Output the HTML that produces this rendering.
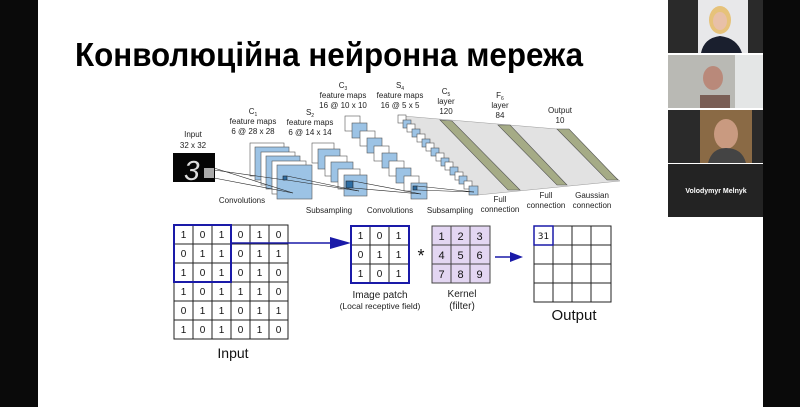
<!DOCTYPE html>
<html><head><meta charset="utf-8">
<style>
html,body{margin:0;padding:0;background:#fff;}
svg{display:block;}
text{font-family:"Liberation Sans",sans-serif;}
.d{font-family:"DejaVu Sans",sans-serif;font-size:10px;text-anchor:middle;fill:#111;}
.s{font-size:8px;text-anchor:middle;fill:#222;}
</style></head><body>
<svg width="800" height="407" viewBox="0 0 800 407" xmlns="http://www.w3.org/2000/svg">
<rect width="800" height="407" fill="#fff"/>
<rect x="0" y="0" width="38" height="407" fill="#0a0a0a"/>
<rect x="763" y="0" width="37" height="407" fill="#0a0a0a"/>
<!-- video tiles -->
<rect x="668" y="0" width="95" height="53" fill="#2a2a2a"/>
<rect x="698" y="0" width="50" height="53" fill="#e8e8ea"/>
<ellipse cx="720" cy="20" rx="11" ry="14" fill="#e6c27a"/>
<ellipse cx="720" cy="21" rx="7" ry="9" fill="#e8c0a8"/>
<path d="M701 53 Q704 38 720 36 Q737 38 742 53Z" fill="#1a1f2e"/>
<rect x="668" y="55" width="95" height="53" fill="#b9b9b4"/>
<rect x="735" y="55" width="28" height="53" fill="#e4e6e6"/>
<ellipse cx="713" cy="78" rx="10" ry="12" fill="#b9897a"/>
<rect x="700" y="95" width="30" height="13" fill="#7a5e55"/>
<rect x="668" y="110" width="95" height="53" fill="#2a2a2a"/>
<rect x="700" y="110" width="52" height="53" fill="#8a6a45"/>
<ellipse cx="726" cy="134" rx="12" ry="15" fill="#c99a80"/>
<path d="M708 163 Q712 148 726 148 Q742 148 746 163Z" fill="#444"/>
<rect x="668" y="164" width="95" height="53" fill="#232323"/>
<text x="716" y="193" font-size="7" font-weight="bold" fill="#fff" text-anchor="middle">Volodymyr Melnyk</text>

<text x="75" y="66" font-size="33" font-weight="bold" fill="#000" textLength="508" lengthAdjust="spacingAndGlyphs">Конволюційна нейронна мережа</text>

<!-- top diagram -->
<text class="s" x="193" y="137">Input</text>
<text class="s" x="193" y="148">32 x 32</text>
<rect x="173" y="153" width="42" height="29" fill="#050505"/>
<text x="184" y="180" font-size="28" fill="#ddd" font-style="italic">3</text>
<rect x="204" y="168" width="10" height="10" fill="#aaa"/>

<text class="s" x="253" y="114">C<tspan font-size="5" dy="2">1</tspan></text>
<text class="s" x="253" y="124">feature maps</text>
<text class="s" x="253" y="134">6 @ 28 x 28</text>
<text class="s" x="310" y="115">S<tspan font-size="5" dy="2">2</tspan></text>
<text class="s" x="310" y="125">feature maps</text>
<text class="s" x="310" y="135">6 @ 14 x 14</text>
<text class="s" x="343" y="88">C<tspan font-size="5" dy="2">3</tspan></text>
<text class="s" x="343" y="98">feature maps</text>
<text class="s" x="343" y="108">16 @ 10 x 10</text>
<text class="s" x="400" y="88">S<tspan font-size="5" dy="2">4</tspan></text>
<text class="s" x="400" y="98">feature maps</text>
<text class="s" x="400" y="108">16 @ 5 x 5</text>
<text class="s" x="446" y="94">C<tspan font-size="5" dy="2">5</tspan></text>
<text class="s" x="446" y="104">layer</text>
<text class="s" x="446" y="114">120</text>
<text class="s" x="500" y="98">F<tspan font-size="5" dy="2">6</tspan></text>
<text class="s" x="500" y="108">layer</text>
<text class="s" x="500" y="118">84</text>
<text class="s" x="560" y="113">Output</text>
<text class="s" x="560" y="123">10</text>

<!-- gray region -->
<polygon points="403,116 557,129 620,181 478,195" fill="#e2e2e2" stroke="#999" stroke-width="0.5"/>
<polygon points="440,120 452,121 520,190 508,190" fill="#a5ab86" stroke="#555" stroke-width="0.6"/>
<polygon points="498,125 510,125 567,185 557,185" fill="#a5ab86" stroke="#555" stroke-width="0.6"/>
<polygon points="557,129 569,129 618,180 607,180" fill="#a5ab86" stroke="#555" stroke-width="0.6"/>

<g stroke="#555" stroke-width="0.6">
<!-- C1 -->
<rect x="250" y="143" width="34" height="33" fill="#fff"/>
<rect x="255" y="147" width="34" height="33" fill="#9cc3e5"/>
<rect x="261" y="152" width="34" height="33" fill="#fff"/>
<rect x="266" y="156" width="34" height="33" fill="#9cc3e5"/>
<rect x="272" y="161" width="34" height="33" fill="#fff"/>
<rect x="277" y="165" width="35" height="34" fill="#9cc3e5"/>
<!-- S2 -->
<rect x="312" y="143" width="22" height="20" fill="#fff"/>
<rect x="318" y="149" width="22" height="20" fill="#9cc3e5"/>
<rect x="325" y="156" width="22" height="20" fill="#fff"/>
<rect x="331" y="162" width="22" height="20" fill="#9cc3e5"/>
<rect x="338" y="169" width="22" height="20" fill="#fff"/>
<rect x="344" y="175" width="23" height="21" fill="#9cc3e5"/>
<!-- C3 -->
<rect x="345" y="116" width="15" height="15" fill="#fff"/>
<rect x="352" y="123" width="15" height="15" fill="#9cc3e5"/>
<rect x="360" y="131" width="15" height="15" fill="#fff"/>
<rect x="367" y="138" width="15" height="15" fill="#9cc3e5"/>
<rect x="374" y="146" width="15" height="15" fill="#fff"/>
<rect x="382" y="153" width="15" height="15" fill="#9cc3e5"/>
<rect x="389" y="161" width="15" height="15" fill="#fff"/>
<rect x="396" y="168" width="15" height="15" fill="#9cc3e5"/>
<rect x="404" y="176" width="15" height="15" fill="#fff"/>
<rect x="411" y="183" width="16" height="16" fill="#9cc3e5"/>
<!-- S4 -->
<rect x="398" y="115" width="8" height="8" fill="#fff"/>
<rect x="403" y="120" width="8" height="8" fill="#9cc3e5"/>
<rect x="407" y="124" width="8" height="8" fill="#fff"/>
<rect x="412" y="129" width="8" height="8" fill="#9cc3e5"/>
<rect x="417" y="134" width="8" height="8" fill="#fff"/>
<rect x="422" y="139" width="8" height="8" fill="#9cc3e5"/>
<rect x="426" y="143" width="8" height="8" fill="#fff"/>
<rect x="431" y="148" width="8" height="8" fill="#9cc3e5"/>
<rect x="436" y="153" width="8" height="8" fill="#fff"/>
<rect x="441" y="158" width="8" height="8" fill="#9cc3e5"/>
<rect x="445" y="162" width="8" height="8" fill="#fff"/>
<rect x="450" y="167" width="8" height="8" fill="#9cc3e5"/>
<rect x="455" y="172" width="8" height="8" fill="#fff"/>
<rect x="459" y="176" width="8" height="8" fill="#9cc3e5"/>
<rect x="464" y="181" width="8" height="8" fill="#fff"/>
<rect x="469" y="186" width="9" height="9" fill="#9cc3e5"/>
</g>
<g stroke="#222" stroke-width="0.6" fill="none">
<line x1="214" y1="168" x2="293" y2="193"/><line x1="214" y1="178" x2="293" y2="193"/><line x1="214" y1="170" x2="285" y2="180"/>
<rect x="283" y="176" width="4" height="4" fill="#2d6da3"/>
<line x1="287" y1="176" x2="359" y2="191"/><line x1="287" y1="180" x2="359" y2="191"/>
<rect x="346" y="181" width="7" height="7" fill="#2d6da3"/>
<line x1="353" y1="181" x2="421" y2="194"/><line x1="353" y1="188" x2="421" y2="194"/>
<rect x="413" y="186" width="4" height="4" fill="#2d6da3"/>
<line x1="417" y1="186" x2="474" y2="192"/><line x1="417" y1="190" x2="474" y2="192"/>
</g>
<text class="s" x="242" y="203">Convolutions</text>
<text class="s" x="329" y="213">Subsampling</text>
<text class="s" x="390" y="213">Convolutions</text>
<text class="s" x="450" y="213">Subsampling</text>
<text class="s" x="500" y="202">Full</text>
<text class="s" x="500" y="212">connection</text>
<text class="s" x="546" y="198">Full</text>
<text class="s" x="546" y="208">connection</text>
<text class="s" x="592" y="198">Gaussian</text>
<text class="s" x="592" y="208">connection</text>

<!-- Input grid -->
<g stroke="#222" stroke-width="1" fill="none">
<rect x="174" y="225" width="114" height="114"/>
<path d="M193 225V339M212 225V339M231 225V339M250 225V339M269 225V339M174 244H288M174 263H288M174 282H288M174 301H288M174 320H288"/>
</g>
<path d="M231 243H332" stroke="#1a1aa8" stroke-width="1.5"/>
<polygon points="330,237 351,243 330,249" fill="#1a1aa8"/>
<rect x="174" y="225" width="57" height="57" fill="none" stroke="#1a1aa8" stroke-width="2"/>
<g class="d">
<text x="183.5" y="238">1</text><text x="202.5" y="238">0</text><text x="221.5" y="238">1</text><text x="240.5" y="238">0</text><text x="259.5" y="238">1</text><text x="278.5" y="238">0</text>
<text x="183.5" y="257">0</text><text x="202.5" y="257">1</text><text x="221.5" y="257">1</text><text x="240.5" y="257">0</text><text x="259.5" y="257">1</text><text x="278.5" y="257">1</text>
<text x="183.5" y="276">1</text><text x="202.5" y="276">0</text><text x="221.5" y="276">1</text><text x="240.5" y="276">0</text><text x="259.5" y="276">1</text><text x="278.5" y="276">0</text>
<text x="183.5" y="295">1</text><text x="202.5" y="295">0</text><text x="221.5" y="295">1</text><text x="240.5" y="295">1</text><text x="259.5" y="295">1</text><text x="278.5" y="295">0</text>
<text x="183.5" y="314">0</text><text x="202.5" y="314">1</text><text x="221.5" y="314">1</text><text x="240.5" y="314">0</text><text x="259.5" y="314">1</text><text x="278.5" y="314">1</text>
<text x="183.5" y="333">1</text><text x="202.5" y="333">0</text><text x="221.5" y="333">1</text><text x="240.5" y="333">0</text><text x="259.5" y="333">1</text><text x="278.5" y="333">0</text>
</g>
<text x="233" y="358" font-family="DejaVu Sans,sans-serif" font-size="14" text-anchor="middle" fill="#111">Input</text>

<!-- Image patch -->
<g stroke="#222" stroke-width="1" fill="none"><path d="M370 226V283M389 226V283M351 245H409M351 264H409"/></g>
<rect x="351" y="226" width="58" height="57" fill="none" stroke="#1a1aa8" stroke-width="2"/>
<g class="d">
<text x="360.5" y="239">1</text><text x="379.5" y="239">0</text><text x="398.5" y="239">1</text>
<text x="360.5" y="258">0</text><text x="379.5" y="258">1</text><text x="398.5" y="258">1</text>
<text x="360.5" y="277">1</text><text x="379.5" y="277">0</text><text x="398.5" y="277">1</text>
</g>
<text x="380" y="298" font-family="DejaVu Sans,sans-serif" font-size="10" text-anchor="middle" fill="#222">Image patch</text>
<text x="380" y="309" font-family="DejaVu Sans,sans-serif" font-size="8.5" text-anchor="middle" fill="#222">(Local receptive field)</text>
<text x="421" y="262" font-family="DejaVu Sans,sans-serif" font-size="18" text-anchor="middle" fill="#111">*</text>

<!-- Kernel -->
<rect x="432" y="226" width="58" height="57" fill="#e3d6f2" stroke="#444" stroke-width="1"/>
<path d="M451 226V283M470 226V283M432 245H490M432 264H490" stroke="#444" stroke-width="1"/>
<g class="d" style="font-size:11px">
<text x="441.5" y="240">1</text><text x="460.5" y="240">2</text><text x="479.5" y="240">3</text>
<text x="441.5" y="259">4</text><text x="460.5" y="259">5</text><text x="479.5" y="259">6</text>
<text x="441.5" y="278">7</text><text x="460.5" y="278">8</text><text x="479.5" y="278">9</text>
</g>
<text x="462" y="297" font-family="DejaVu Sans,sans-serif" font-size="10" text-anchor="middle" fill="#222">Kernel</text>
<text x="462" y="309" font-family="DejaVu Sans,sans-serif" font-size="10" text-anchor="middle" fill="#222">(filter)</text>

<path d="M495 257H512" stroke="#1a1aa8" stroke-width="1.5"/>
<polygon points="510,252 523,257 510,262" fill="#1a1aa8"/>

<!-- Output -->
<g stroke="#222" stroke-width="1" fill="none">
<rect x="534" y="226" width="77" height="76"/>
<path d="M553 226V302M572 226V302M591 226V302M534 245H611M534 264H611M534 283H611"/>
</g>
<rect x="534" y="226" width="19" height="19" fill="none" stroke="#1a1aa8" stroke-width="1.5"/>
<text x="543.5" y="239" class="d" style="font-size:9px">31</text>
<text x="574" y="320" font-family="DejaVu Sans,sans-serif" font-size="15" text-anchor="middle" fill="#111">Output</text>
</svg>
</body></html>
